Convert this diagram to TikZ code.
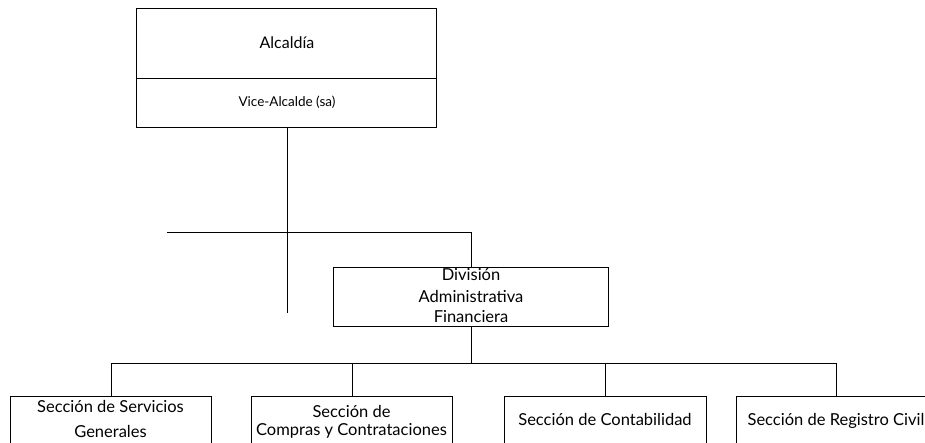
\documentclass[tikz,border=0pt]{standalone}
\usepackage{fontspec}
\setmainfont{Lato}
\begin{document}
\begin{tikzpicture}[x=1pt,y=-1pt,line width=0.8pt,
  box/.style={draw,rectangle,inner sep=0pt,anchor=north west},
  txt/.style={inner sep=0pt,anchor=base,font=\fontsize{16.5}{18}\selectfont},
  bigtxt/.style={inner sep=0pt,anchor=base,font=\fontsize{16}{18}\selectfont},
  smalltxt/.style={inner sep=0pt,anchor=base,font=\fontsize{13.5}{15}\selectfont}]
\useasboundingbox (0,0) rectangle (925,442);
\clip (0,0) rectangle (925,442);
% top box
\node[box,minimum width=300pt,minimum height=119pt] (alc) at (136,8) {};
\coordinate (divy) at (0,78);
\draw (alc.west |- divy) -- (alc.east |- divy);
\node[bigtxt] (talc) at (287,48) {Alcaldía};
\node[smalltxt] (tvice) at (287,106) {Vice-Alcalde (sa)};
% division box
\node[box,minimum width=275pt,minimum height=59pt] (div) at (333,267) {};
\node[txt] (td1) at (471,280) {División};
\node[txt] (td2) at (471,302) {Administrativa};
\node[txt] (td3) at (471,322) {Financiera};
% section boxes
\node[box,minimum width=201pt,minimum height=70pt] (s1) at (10,396) {};
\node[box,minimum width=201pt,minimum height=70pt] (s2) at (251,396) {};
\node[box,minimum width=202pt,minimum height=70pt] (s3) at (504,396) {};
\node[box,minimum width=200pt,minimum height=70pt] (s4) at (736,396) {};
\node[txt] (t1a) at (110.5,412) {Sección de Servicios};
\node[txt] (t1b) at (110.5,437) {Generales};
\node[txt] (t2a) at (351.5,417) {Sección de};
\node[txt] (t2b) at (351.5,435) {Compras y Contrataciones};
\node[txt] (t3) at (605,425) {Sección de Contabilidad};
\node[txt] (t4) at (836,425) {Sección de Registro Civil};
% connectors
\coordinate (vend) at (287,313);
\draw (alc.south -| vend) -- (vend);
\coordinate (hl) at (167,232);
\draw (hl) -- (hl -| div.north) -- (div.north);
\coordinate (bus) at (0,363);
\draw (div.south) -- (div.south |- bus);
\draw (s1.north |- bus) -- (s4.north |- bus);
\draw (s1.north |- bus) -- (s1.north);
\draw (s2.north |- bus) -- (s2.north);
\draw (s3.north |- bus) -- (s3.north);
\draw (s4.north |- bus) -- (s4.north);
\end{tikzpicture}
\end{document}
